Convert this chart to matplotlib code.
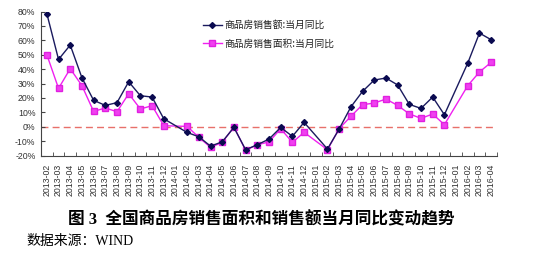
import numpy as np
import matplotlib
matplotlib.use("Agg")
import matplotlib.pyplot as plt

months = ["2013-02","2013-03","2013-04","2013-05","2013-06","2013-07","2013-08","2013-09",
          "2013-10","2013-11","2013-12","2014-01","2014-02","2014-03","2014-04","2014-05",
          "2014-06","2014-07","2014-08","2014-09","2014-10","2014-11","2014-12","2015-01",
          "2015-02","2015-03","2015-04","2015-05","2015-06","2015-07","2015-08","2015-09",
          "2015-10","2015-11","2015-12","2016-01","2016-02","2016-03","2016-04"]

# 商品房销售额:当月同比 (%), None = no data (Jan merged with Feb)
sales_amount = [78.5, 46.7, 56.7, 34.0, 18.3, 14.8, 16.7, 31.2, 21.5, 20.6, 5.5, None,
                -4.0, -7.0, -13.5, -10.5, -0.5, -16.0, -12.5, -8.6, -0.5, -6.7, 3.0, None,
                -15.5, -1.6, 13.7, 24.5, 32.4, 33.8, 29.0, 15.5, 12.7, 20.6, 8.3, None,
                44.2, 65.0, 60.4]
# 商品房销售面积:当月同比 (%)
sales_area = [50.0, 26.6, 40.3, 28.5, 10.6, 13.0, 10.4, 22.9, 12.3, 14.6, 0.7, None,
              0.2, -7.4, -14.3, -10.9, -0.2, -16.4, -12.5, -10.6, -1.4, -10.9, -3.9, None,
              -16.0, -1.4, 7.2, 15.3, 16.4, 19.2, 14.8, 8.9, 5.8, 8.8, 1.4, None,
              28.5, 38.0, 44.7]

yticks = [-20, -10, 0, 10, 20, 30, 40, 50, 60, 70, 80]

label_amount = "商品房销售额:当月同比"
label_area = "商品房销售面积:当月同比"
caption = "图 3  全国商品房销售面积和销售额当月同比变动趋势"
source = "数据来源：WIND"

cjk = ['Noto Sans CJK SC', 'DejaVu Sans']
serif_cjk = ['Liberation Serif', 'Noto Sans CJK SC']
plt.rcParams['font.family'] = cjk

fig = plt.figure(figsize=(5.38, 2.59), dpi=100)
ax = fig.add_axes([41/538, 1-155.5/259, (497-41)/538, (155.5-11.5)/259])

x = np.arange(len(months))

def valid(vals):
    xs = [i for i, v in enumerate(vals) if v is not None]
    ys = [v for v in vals if v is not None]
    return xs, ys

xa, ya = valid(sales_amount)
xb, yb = valid(sales_area)

ax.axhline(0, color='#E8706A', lw=1.0, ls=(0, (5, 3)), zorder=1)
ax.plot(xb, yb, color='#F020F0', lw=1.0, marker='s', ms=4.2, mec='#E020E0',
        mfc='#F040F0', label=label_area, zorder=3)
ax.plot(xa, ya, color='#1A1A5E', lw=1.0, marker='D', ms=3.0, mfc='#0A0A50',
        mec='#0A0A50', label=label_amount, zorder=4)

ax.set_xlim(-0.5, len(months) - 0.5)
ax.set_ylim(-20, 80)
ax.set_yticks(yticks)
ax.set_yticklabels([f"{v}%" for v in yticks], family='Liberation Sans', fontsize=6.3,
                   color='#333333')
ax.set_xticks(x)
ax.set_xticklabels(months, rotation=90, family='Liberation Sans', fontsize=6.3,
                   color='#333333')
ax.set_xticks(np.arange(len(months) + 1) - 0.5, minor=True)
ax.tick_params(axis='x', which='major', length=0, pad=6)
ax.tick_params(axis='x', which='minor', direction='in', length=3, color='#444444')
ax.tick_params(axis='y', direction='in', length=3, pad=4, color='#444444')

for s in ['top', 'right']:
    ax.spines[s].set_visible(False)
for s in ['left', 'bottom']:
    ax.spines[s].set_color('#444444')
    ax.spines[s].set_linewidth(0.8)

handles, labels = ax.get_legend_handles_labels()
leg = ax.legend(handles[::-1], labels[::-1], loc='upper left',
                bbox_to_anchor=(0.335, 1.0), frameon=False, fontsize=7,
                labelspacing=0.85, handlelength=2.0, handletextpad=0.3)
for t in leg.get_texts():
    t.set_color('#222222')

fig.text(261/538, 1-220.5/259, caption, ha='center', va='center', fontsize=12,
         fontweight='bold', family=serif_cjk)
fig.text(26/538, 1-241/259, source, ha='left', va='center', fontsize=10, family=serif_cjk)

fig.savefig("out.png", dpi=100)
